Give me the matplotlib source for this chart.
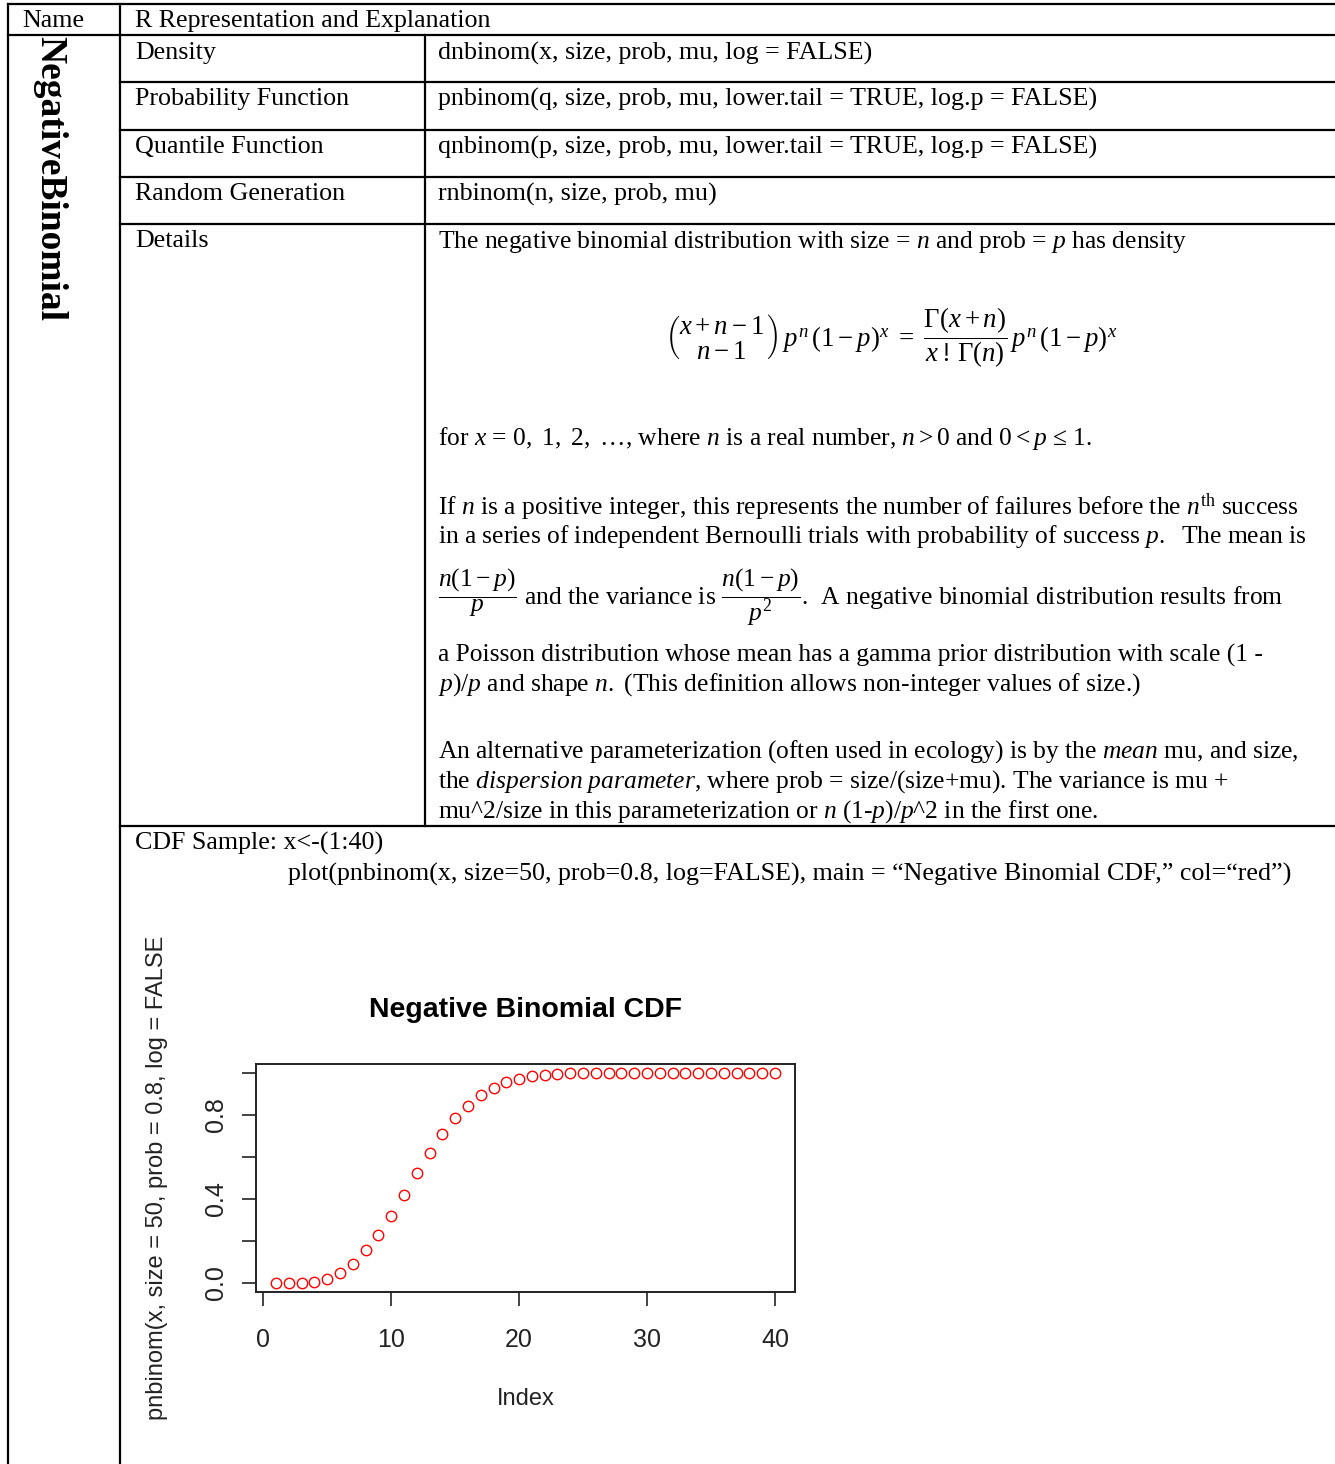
import matplotlib
matplotlib.use("Agg")
import matplotlib.pyplot as plt

plt.rcParams['font.family'] = ['Liberation Serif', 'DejaVu Serif']
plt.rcParams['mathtext.fontset'] = 'custom'
plt.rcParams['mathtext.rm'] = 'Liberation Serif'
plt.rcParams['mathtext.it'] = 'Liberation Serif:italic'
plt.rcParams['mathtext.bf'] = 'Liberation Serif:bold'

# table content
header = ["Name", "R Representation and Explanation"]
dist_name = "NegativeBinomial"
row_labels = ["Density", "Probability Function", "Quantile Function",
              "Random Generation", "Details"]
row_code = [
    "dnbinom(x, size, prob, mu, log = FALSE)",
    "pnbinom(q, size, prob, mu, lower.tail = TRUE, log.p = FALSE)",
    "qnbinom(p, size, prob, mu, lower.tail = TRUE, log.p = FALSE)",
    "rnbinom(n, size, prob, mu)",
]
details = [
    r"The negative binomial distribution with size = $n$ and prob = $p$ has density",
    r"for $x$ = $\mathit{0,\ 1,\ 2,}$ …, where $n$ is a real number, $\mathit{n>0}$ and $\mathit{0<p}$ ≤ $\mathit{1.}$",
    r"If $n$ is a positive integer, this represents the number of failures before the $n^{\mathrm{th}}$ success",
    r"in a series of independent Bernoulli trials with probability of success $p.$  The mean is",
    r"$\dfrac{n(1-p)}{p}$ and the variance is $\dfrac{n(1-p)}{p^{2}}$.  A negative binomial distribution results from",
    r"a Poisson distribution whose mean has a gamma prior distribution with scale (1 -",
    r"$p)/p$ and shape $n.$ (This definition allows non-integer values of size.)",
    r"An alternative parameterization (often used in ecology) is by the $\mathit{mean}$ mu, and size,",
    r"the $\mathit{dispersion\ parameter}$, where prob = size/(size+mu). The variance is mu +",
    r"mu^2/size in this parameterization or $n\ (1$-$p)/p$^$\mathit{2}$ in the first one.",
]
formula = (r"$\left(\genfrac{}{}{0}{0}{x+n-1}{n-1}\right)\,p^{n}\,(1-p)^{x}\ =\ "
           r"\dfrac{\Gamma(x+n)}{x\,!\,\Gamma(n)}\,p^{n}\,(1-p)^{x}$")
sample_lines = [
    "CDF Sample: x<-(1:40)",
    "plot(pnbinom(x, size=50, prob=0.8, log=FALSE), main = \u201cNegative Binomial CDF,\u201d col=\u201cred\u201d)",
]

# CDF values, x = 1..40
idx = list(range(1, 41))
cdf = [0.000, 0.001, 0.002, 0.005, 0.017, 0.048, 0.092, 0.156, 0.227, 0.320,
       0.420, 0.525, 0.620, 0.710, 0.787, 0.844, 0.893, 0.930, 0.957, 0.973,
       0.984, 0.992, 0.995, 0.998, 0.999, 1.000, 1.000, 1.000, 1.000, 1.000,
       1.000, 1.000, 1.000, 1.000, 1.000, 1.000, 1.000, 1.000, 1.000, 1.000]
plot_title = "Negative Binomial CDF"
xlab = "Index"
ylab = "pnbinom(x, size = 50, prob = 0.8, log = FALSE"

W, H = 1335, 1464
fig = plt.figure(figsize=(W / 100, H / 100), dpi=100)
bg = fig.add_axes([0, 0, 1, 1])
bg.set_xlim(0, W)
bg.set_ylim(H, 0)
bg.axis("off")

lw = 1.6
# table rules
bg.plot([8, W], [4, 4], color="black", lw=lw)
bg.plot([8, W], [35, 35], color="black", lw=lw)
for y in [82, 130, 177, 224]:
    bg.plot([120, W], [y, y], color="black", lw=lw)
bg.plot([120, W], [826, 826], color="black", lw=lw)
bg.plot([8, 8], [4, H], color="black", lw=lw)
bg.plot([120, 120], [4, H], color="black", lw=lw)
bg.plot([425, 425], [35, 826], color="black", lw=lw)

fs = 18.7
bg.text(22, 21, header[0], fontsize=fs, va="center")
bg.text(135, 21, header[1], fontsize=fs, va="center")
bg.text(50, 36, dist_name, fontsize=27, fontweight="bold", rotation=-90,
        ha="center", va="top")

row_y = [53, 99, 147, 194, 241]
for y, lab in zip(row_y, row_labels):
    bg.text(135, y, lab, fontsize=fs, va="center")
for y, code in zip(row_y, row_code):
    bg.text(438, y, code, fontsize=fs, va="center")

detail_y = [242, 439, 507, 537, 597, 655, 685, 752, 782, 812]
for y, line in zip(detail_y, details):
    bg.text(438, y, line, fontsize=18.4, va="center")
bg.text(891, 338, formula, fontsize=19.3, ha="center", va="center")

bg.text(135, 843, sample_lines[0], fontsize=fs, va="center")
bg.text(288, 874, sample_lines[1], fontsize=fs, va="center")

# embedded R plot
ax = fig.add_axes([256 / W, 1 - 1292 / H, (795 - 256) / W, (1292 - 1064) / H])
ax.plot(idx, cdf, linestyle="none", marker="o", markersize=7.5,
        markerfacecolor="none", markeredgecolor="red", markeredgewidth=1.0)
ax.set_xlim(-0.56, 41.56)
ax.set_ylim(-0.043, 1.043)
ax.set_xticks([0, 10, 20, 30, 40])
ax.set_yticks([0, 0.2, 0.4, 0.6, 0.8, 1.0])
ax.set_yticklabels(["0.0", "", "0.4", "", "0.8", ""], rotation=90, va="center")
sans = ["Liberation Sans", "DejaVu Sans"]
for t in ax.get_xticklabels() + ax.get_yticklabels():
    t.set_family(sans)
    t.set_fontsize(18)
ax.tick_params(axis="x", direction="out", length=10, width=1.2, pad=16,
               colors="#222222")
ax.tick_params(axis="y", direction="out", length=10, width=1.2, pad=10,
               colors="#222222")
for s in ax.spines.values():
    s.set_linewidth(1.4)
    s.set_color("#222222")
ax.set_title(plot_title, family=sans, fontsize=20.5, fontweight="bold", pad=34)
ax.set_xlabel(xlab, family=sans, fontsize=17, labelpad=26, color="#222222")
ax.set_ylabel(ylab, family=sans, fontsize=17, labelpad=26, color="#222222")

fig.savefig("out.png", dpi=100)
